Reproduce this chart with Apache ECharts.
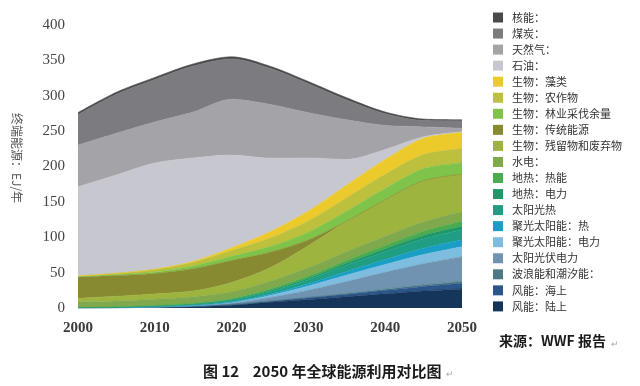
<!DOCTYPE html>
<html>
<head>
<meta charset="utf-8">
<script src="https://cdn.jsdelivr.net/npm/echarts@6/dist/echarts.min.js"></script>
<style>
html,body{margin:0;padding:0;background:#fff;}
#c{width:640px;height:386px;}
</style>
</head>
<body>
<div id="c"></div>
<script>
// ---- data (EJ / year), stacked bottom-up ----
const years = ['2000', '2005', '2010', '2015', '2020', '2025', '2030', '2035', '2040', '2045', '2050'];
const xTickLabels = ['2000', '2010', '2020', '2030', '2040', '2050'];
const yTicks = [0, 50, 100, 150, 200, 250, 300, 350, 400];

const windOnshore   = [0, 0.3, 1, 2, 4, 8, 12, 16, 20, 24, 27];
const windOffshore  = [0, 0, 0.1, 0.3, 0.8, 1.5, 2.5, 3.5, 5, 6.5, 8];
const waveTidal     = [0, 0, 0, 0, 0.1, 0.3, 0.6, 1, 1.5, 2, 2.5];
const solarPV       = [0, 0.1, 0.3, 0.8, 2, 5, 10, 17, 24, 30, 35];
const cspElec       = [0, 0, 0.1, 0.3, 1, 3, 6, 9, 11, 13, 14];
const cspHeat       = [0, 0, 0, 0.1, 0.5, 1.5, 3, 5, 7, 9, 10];
const solarThermal  = [0.2, 0.4, 0.8, 1.5, 2.5, 4, 6, 9, 11, 13, 14];
const geoElec       = [0.2, 0.3, 0.5, 0.7, 1, 1.5, 2, 3, 4, 5, 5];
const geoHeat       = [0.3, 0.4, 0.6, 0.8, 1.2, 2, 3, 4, 5, 6, 7];
const hydro         = [8, 8.5, 9, 9.5, 10, 11, 12, 12.5, 13, 13.5, 14];
const bioResidues   = [5, 6.5, 7.5, 8, 13, 19, 31, 42.5, 51.5, 58, 52.5];
const bioTraditional= [30, 29.5, 29, 31.5, 31, 22, 8, 0.5, 0, 0, 0];
const bioForestry   = [0.5, 1, 2, 4, 6, 8, 11, 14, 16, 17, 16];
const bioCrops      = [1, 2, 3.5, 5, 8, 12, 16, 19, 20, 20, 20];
const bioAlgae      = [0, 0, 0.5, 1.5, 4, 9, 14, 18, 21, 23, 23];
const oil           = [126, 139, 150, 146, 131, 104, 75, 36, 14, 2, 1];
const gas           = [59, 59, 58, 65, 79, 76, 64, 56, 34, 14, 5];
const coal          = [43, 55, 60, 65, 57, 51, 41, 28, 16.5, 9, 10.5];
const nuclear       = [3, 3, 3, 3, 3, 3, 3, 3, 2.5, 2, 1.5];

const seriesDefs = [
  ['风能：陆上', windOnshore, '#16355a'],
  ['风能：海上', windOffshore, '#2b5689'],
  ['波浪能和潮汐能：', waveTidal, '#4d7a83'],
  ['太阳光伏电力', solarPV, '#6f93b0'],
  ['聚光太阳能：电力', cspElec, '#7ebde0'],
  ['聚光太阳能：热', cspHeat, '#1a9fc4'],
  ['太阳光热', solarThermal, '#1f9e84'],
  ['地热：电力', geoElec, '#1e9868'],
  ['地热：热能', geoHeat, '#4cab4e'],
  ['水电：', hydro, '#7fa94c'],
  ['生物：残留物和废弃物', bioResidues, '#9db43f'],
  ['生物：传统能源', bioTraditional, '#878a30'],
  ['生物：林业采伐余量', bioForestry, '#80c34a'],
  ['生物：农作物', bioCrops, '#bcc03c'],
  ['生物：藻类', bioAlgae, '#ecca2c'],
  ['石油：', oil, '#c7c7cf'],
  ['天然气：', gas, '#a3a3a8'],
  ['煤炭：', coal, '#7c7c80'],
  ['核能：', nuclear, '#4a4a4c']
];

const series = seriesDefs.map(([name, vals, color]) => ({
  name: name,
  type: 'line',
  stack: 'total',
  smooth: 0.3,
  symbol: 'none',
  lineStyle: { width: 0.6, color: color },
  itemStyle: { color: color },
  areaStyle: { color: color, opacity: 1 },
  data: vals.slice()
}));

const chart = echarts.init(document.getElementById('c'), null, { renderer: 'canvas' });
chart.setOption({
  animation: false,
  backgroundColor: '#ffffff',
  grid: { left: 78, right: 178, top: 25, bottom: 78, containLabel: false },
  xAxis: {
    type: 'category', data: years, boundaryGap: false,
    axisLine: { show: false }, axisTick: { show: false }, splitLine: { show: false },
    axisLabel: { margin: 13, color: '#3a3a3a', fontSize: 15, fontWeight: 'bold',
      fontFamily: 'Liberation Serif', interval: 0,
      formatter: v => xTickLabels.includes(v) ? v : '' }
  },
  yAxis: {
    type: 'value', min: 0, max: 400, interval: 50,
    axisLine: { show: false }, axisTick: { show: false }, splitLine: { show: false },
    axisLabel: { margin: 13, color: '#444', fontSize: 15, fontFamily: 'Liberation Serif',
      formatter: v => yTicks.includes(v) ? String(v) : '' }
  },
  legend: {
    orient: 'vertical', left: 488, top: 7,
    icon: 'rect', itemWidth: 10, itemHeight: 10, itemGap: 5.05,
    textStyle: { color: '#333', fontSize: 11, fontFamily: 'Noto Sans CJK SC', padding: [0, 0, 0, 4] },
    data: seriesDefs.map(d => d[0]).reverse()
  },
  graphic: [
    { type: 'text', x: 17, y: 158, rotation: -Math.PI / 2,
      style: { text: '终端能源：EJ/年', font: '12px "Noto Sans CJK SC"', fill: '#555', align: 'center', verticalAlign: 'middle' } },
    { type: 'text', left: 499, top: 334, style: { text: '来源：WWF 报告', font: 'bold 14px "Noto Sans CJK SC"', fill: '#1a1a1a' } },
    { type: 'text', left: 611, top: 339, style: { text: '↵', font: '9px "Noto Sans CJK SC"', fill: '#aaa' } },
    { type: 'text', left: 203, top: 364, style: { text: '图 12    2050 年全球能源利用对比图', font: 'bold 15px "Noto Sans CJK SC"', fill: '#1a1a1a' } },
    { type: 'text', left: 446, top: 369, style: { text: '↵', font: '9px "Noto Sans CJK SC"', fill: '#aaa' } }
  ],
  series: series
});
</script>
</body>
</html>
